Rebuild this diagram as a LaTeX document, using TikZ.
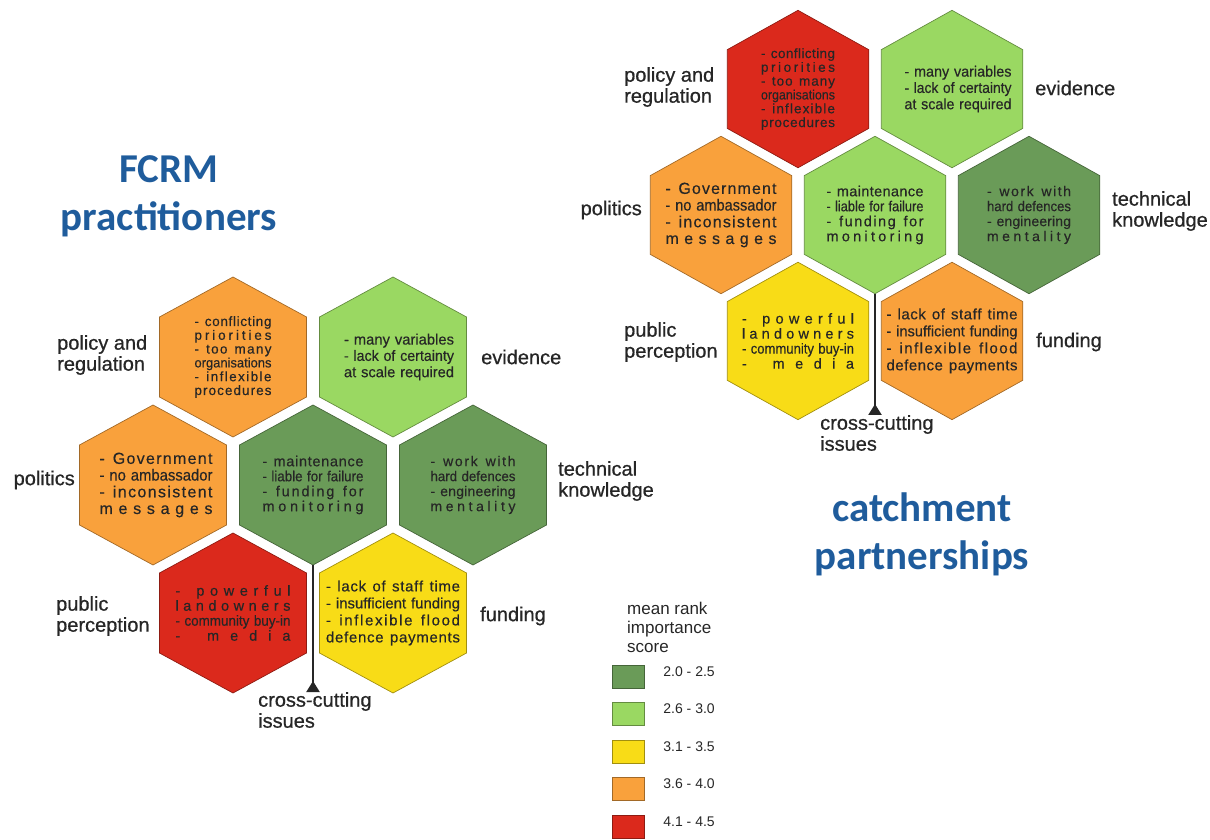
\documentclass[tikz,border=0pt]{standalone}
\usepackage{fontspec}
\usepackage{graphicx}
\setmainfont{Liberation Sans}
\newfontfamily\headfont{Carlito}
\newfontfamily\labelfont[FakeBold=0.7]{Liberation Sans}
\newfontfamily\cellfont[FakeBold=0.35]{Liberation Sans}
\usetikzlibrary{arrows.meta,positioning}
\definecolor{DarkLeaf}{HTML}{6A9B58}
\definecolor{LightLeaf}{HTML}{9AD862}
\definecolor{Sun}{HTML}{F8DC17}
\definecolor{Amber}{HTML}{F9A13C}
\definecolor{Brick}{HTML}{DB291C}
\definecolor{Ink}{HTML}{1F5C9C}
\definecolor{Coal}{HTML}{262626}

% one line stretched or squeezed to the full text width
\ExplSyntaxOn
\box_new:N \l__fit_box
\tl_new:N \l__fit_tl
\NewDocumentCommand \fitline { m }
  {
    \mode_leave_vertical:
    \hbox_set:Nn \l__fit_box { #1 }
    \dim_compare:nNnTF { \box_wd:N \l__fit_box } > { \hsize }
      { \resizebox { \hsize } { \height } { #1 } }
      {
        \tl_set:Nn \l__fit_tl { #1 }
        \tl_replace_all:Nnn \l__fit_tl { ~ } { \fitspace }
        \hbox_to_wd:nn { \hsize } { \tl_map_inline:Nn \l__fit_tl { ##1 \hfil } \unskip }
      }
  }
\ExplSyntaxOff
\newcommand\fitspace{\space}

\newcommand\hxpolicy{\fitline{- conflicting}\\\fitline{priorities}\\\fitline{- too many}\\\fitline{organisations}\\\fitline{- inflexible}\\\fitline{procedures}}
\newcommand\hxevidence{\fitline{- many variables}\\\fitline{- lack of certainty}\\\fitline{at scale required}}
\newcommand\hxpolitics{\fitline{- Government}\\\fitline{- no ambassador}\\\fitline{- inconsistent}\\\fitline{messages}}
\newcommand\hxupkeep{\fitline{- maintenance}\\\fitline{- liable for failure}\\\fitline{- funding for}\\\fitline{monitoring}}
\newcommand\hxtech{\fitline{- work with}\\\fitline{hard defences}\\\fitline{- engineering}\\\fitline{mentality}}
\newcommand\hxpublic{\fitline{- powerful}\\\fitline{landowners}\\\fitline{- community buy-in}\\\fitline{- media}}
\newcommand\hxfunding{\fitline{- lack of staff time}\\\fitline{- insufficient funding}\\\fitline{- inflexible flood}\\\fitline{defence payments}}

\begin{document}
\begin{tikzpicture}[x=1pt, y=1pt,
    hexcell/.style={fill=#1, draw=#1!65!black, line width=0.7pt},
    cell/.style n args={3}{text width=#1, font=\cellfont\fontsize{#2}{#3}\selectfont, align=center, inner sep=0pt, text=Coal},
    sidelabel/.style={font=\labelfont\fontsize{20}{21}\selectfont, align=left, inner sep=0pt, text=Coal},
    heading/.style={font=\headfont\bfseries\fontsize{41}{48}\selectfont, align=center, text=Ink},
    stemline/.style={line width=2.2pt, draw=Coal, -{Triangle[reversed, length=11pt, width=13pt]}},
    swatch/.style={draw=#1!65!black, fill=#1, minimum width=32pt, minimum height=23pt, inner sep=0pt},
    keylabel/.style={font=\fontsize{14}{16}\selectfont, inner sep=0pt, text=Coal}
  ]
  \useasboundingbox (0,0) rectangle (1210,839);

  % FCRM practitioners
  \begin{scope}[shift={(313,354)}]
    \foreach \x/\y/\c in {-80/128/Amber, 80/128/LightLeaf, -160/0/Amber, 0/0/DarkLeaf, 160/0/DarkLeaf, -80/-128/Brick, 80/-128/Sun}
      \filldraw[hexcell=\c] (\x,\y) +(0,80) -- +(73.5,40) -- +(73.5,-40) -- +(0,-80) -- +(-73.5,-40) -- +(-73.5,40) -- cycle;
    \node[cell={77pt}{13.5}{13.8}] (lpol) at (-80,128) {\hxpolicy};
    \node[cell={110pt}{15}{16.3}, xshift=6pt] (lev) at (80,128) {\hxevidence};
    \node[cell={113pt}{16}{16.7}, xshift=3pt] (lpolit) at (-160,0) {\hxpolitics};
    \node[cell={101pt}{14.5}{15}] (lupk) at (0,0) {\hxupkeep};
    \node[cell={85pt}{14}{15}] (ltech) at (160,0) {\hxtech};
    \node[cell={115pt}{14.5}{15}] (lpub) at (-80,-128) {\hxpublic};
    \node[cell={134pt}{15}{17}] (lfund) at (80,-128) {\hxfunding};
    \coordinate (lstem) at (0,-80);
  \end{scope}

  \node[sidelabel, anchor=west] (lpolL) at (57,484) {policy and\\regulation};
  \node[sidelabel, anchor=west] (levL) at (481,482) {evidence};
  \node[sidelabel, anchor=east] (lpolitL) at (75,359) {politics};
  \node[sidelabel, anchor=west] (ltechL) at (558,358) {technical\\knowledge};
  \node[sidelabel, anchor=west] (lpubL) at (56,223) {public\\perception};
  \node[sidelabel, anchor=west] (lfundL) at (480,223) {funding};
  \node[sidelabel, anchor=north west] (lcross) at (258,147) {cross-cutting\\issues};
  \draw[stemline] (lstem) -- (lstem |- lcross.north);
  \node[heading] (ltitle) at (169,643) {FCRM\\practitioners};

  % catchment partnerships
  \begin{scope}[shift={(875,624)}, xscale=0.9625, yscale=0.984]
    \foreach \x/\y/\c in {-80/128/Brick, 80/128/LightLeaf, -160/0/Amber, 0/0/LightLeaf, 160/0/DarkLeaf, -80/-128/Sun, 80/-128/Amber}
      \filldraw[hexcell=\c] (\x,\y) +(0,80) -- +(73.5,40) -- +(73.5,-40) -- +(0,-80) -- +(-73.5,-40) -- +(-73.5,40) -- cycle;
    \node[cell={74pt}{13.5}{13.8}] (rpol) at (-80,128) {\hxpolicy};
    \node[cell={107pt}{15}{16.3}, xshift=6pt] (rev) at (80,128) {\hxevidence};
    \node[cell={111pt}{16}{16.7}] (rpolit) at (-160,0) {\hxpolitics};
    \node[cell={97pt}{14.5}{15}] (rupk) at (0,0) {\hxupkeep};
    \node[cell={84pt}{14}{15}] (rtech) at (160,0) {\hxtech};
    \node[cell={112pt}{14.5}{15}] (rpub) at (-80,-128) {\hxpublic};
    \node[cell={131pt}{15}{17}] (rfund) at (80,-128) {\hxfunding};
    \coordinate (rstem) at (0,-80);
  \end{scope}

  \node[sidelabel, anchor=west] (rpolL) at (624,752) {policy and\\regulation};
  \node[sidelabel, anchor=west] (revL) at (1035,751) {evidence};
  \node[sidelabel, anchor=east] (rpolitL) at (642,629) {politics};
  \node[sidelabel, anchor=west] (rtechL) at (1112,628) {technical\\knowledge};
  \node[sidelabel, anchor=west] (rpubL) at (624,497) {public\\perception};
  \node[sidelabel, anchor=west] (rfundL) at (1036,497) {funding};
  \node[sidelabel, anchor=north west] (rcross) at (820,424) {cross-cutting\\issues};
  \draw[stemline] (rstem) -- (rstem |- rcross.north);
  \node[heading] (rtitle) at (922,305) {catchment\\partnerships};

  % legend
  \node[keylabel, font=\fontsize{17}{19}\selectfont, align=left, anchor=west] (keyhead) at (627,212) {mean rank\\importance\\score};
  \foreach \c/\t [count=\i] in {DarkLeaf/2.0 - 2.5, LightLeaf/2.6 - 3.0, Sun/3.1 - 3.5, Amber/3.6 - 4.0, Brick/4.1 - 4.5} {
    \node[swatch=\c] (key\i) at (628,200-37.5*\i) {};
    \node[keylabel, right=19pt of key\i, yshift=5pt] (keylab\i) {\t};
  }
\end{tikzpicture}
\end{document}
